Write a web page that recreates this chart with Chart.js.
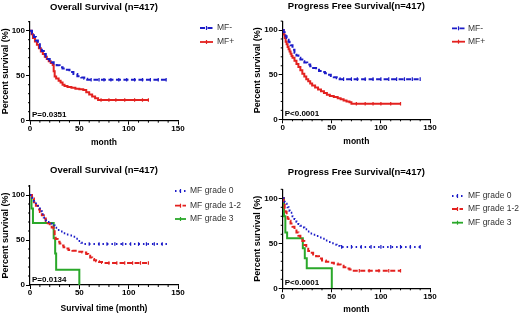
<!DOCTYPE html>
<html>
<head>
<meta charset="utf-8">
<script src="https://cdn.jsdelivr.net/npm/chart.js@4.4.1/dist/chart.umd.min.js"></script>
<style>
  html, body { margin: 0; padding: 0; background: #fff; }
  #wrap { position: relative; width: 520px; height: 315px; overflow: hidden; }
  canvas { position: absolute; }
</style>
</head>
<body>
<div id="wrap">
  <canvas id="c1" width="252" height="157" style="left:0;top:0"></canvas>
  <canvas id="c2" width="268" height="157" style="left:252px;top:0"></canvas>
  <canvas id="c3" width="252" height="158" style="left:0;top:157px"></canvas>
  <canvas id="c4" width="268" height="158" style="left:252px;top:157px"></canvas>
</div>
<script>
// ---- data (months, percent survival) ----
const xTicks = [0, 50, 100, 150]
const yTicks = [0, 50, 100]

// overall survival, MF- / MF+
const osNegT = [0, 2, 4, 6, 8, 10, 12, 14, 16, 18, 20, 22, 24, 27, 30, 33, 36, 40, 44, 48, 52, 55, 58, 140]
const osNegS = [100, 97, 93, 89, 85, 81, 77.5, 74, 71, 68.5, 66.5, 65, 63.5, 61.5, 59.5, 58, 56.5, 54, 52, 49.5, 48, 46.5, 45.5, 45.5]
const osPosT = [0, 1.5, 3, 5, 7, 9, 11, 13, 15, 17, 19, 21, 23, 24, 25, 26.5, 29, 31, 33, 35, 38, 42, 46, 50, 54, 57, 60, 63, 66, 69, 120]
const osPosS = [100, 96, 92, 88, 84.5, 80.5, 77, 74, 71, 68.5, 66, 64, 62, 55, 49, 47, 44.5, 42.5, 40, 38.5, 37.5, 36.5, 35.5, 35, 34, 31.5, 29, 27, 25, 23, 23]
const osNegCens = [62, 70, 75, 82, 90, 98, 106, 114, 122, 130, 138]
const osPosCens = [72, 80, 87, 96, 106, 114, 120]

// progress free survival, MF- / MF+
const pfsNegT = [0, 1, 2, 3, 4, 5, 6, 7, 8, 10, 12, 14, 16, 18, 20, 22, 25, 28, 31, 34, 37, 40, 43, 46, 49, 52, 55, 58, 140]
const pfsNegS = [100, 97.5, 95, 93, 91, 89, 87, 85, 83, 78, 74.5, 71.5, 69, 67, 65, 63.5, 61.5, 59.5, 57.5, 55.5, 54, 53, 51.5, 50, 48.5, 47, 46, 45, 45]
const pfsPosT = [0, 1, 2, 3, 4, 5, 6, 7, 8, 9, 10, 12, 14, 16, 18, 20, 22, 24, 26, 28, 30, 33, 36, 39, 42, 45, 48, 52, 56, 59, 62, 65, 68, 70, 120]
const pfsPosS = [100, 95, 91, 87, 84, 81, 78.5, 76, 73.5, 71, 69, 65.5, 62, 58.5, 55, 51, 48, 45, 42.5, 40, 38, 35.5, 33.5, 31.5, 29.5, 27.5, 26, 25, 23.5, 22.5, 21, 20, 19, 17.5, 17.5]
const pfsNegCens = [62, 70, 76, 84, 92, 100, 108, 116, 124, 132, 140]
const pfsPosCens = [75, 84, 92, 100, 110, 120]

// overall survival by MF grade
const osG0T = [0, 2, 4, 6, 8, 10, 12, 14, 16, 18, 20, 22, 25, 28, 31, 34, 37, 40, 43, 46, 49, 52, 55, 140]
const osG0S = [100, 97, 93, 89, 85, 82, 78.5, 75, 72, 70, 68, 66, 63.5, 61, 59.5, 57.5, 56, 55, 53.5, 51.5, 49, 47, 45.5, 45.5]
const osG12T = [0, 2, 4, 6, 8, 10, 12, 14, 16, 18, 20, 22, 24, 25, 26, 28, 30, 32, 34, 36, 39, 43, 48, 53, 57, 59, 61, 63, 65, 67, 70, 73, 120]
const osG12S = [100, 96, 92, 88, 84, 81, 77.5, 74, 71, 68.5, 66, 64, 62.5, 55, 51, 48, 46, 44, 42, 40.5, 39, 38, 37, 36, 34.5, 32.5, 30.5, 29, 27.5, 26.5, 25.5, 24.5, 24.5]
const osG3T = [0, 1.5, 3, 24, 25.5, 26.5, 50]
const osG3S = [100, 85, 69, 52, 35, 17, 0]
const osG0Cens = [60, 70, 78, 86, 94, 102, 110, 118, 126, 134]
const osG12Cens = [80, 88, 96, 104, 112, 120]

// progress free survival by MF grade
const pfsG0T = [0, 1, 2, 3, 4, 5, 6, 7, 8, 10, 12, 14, 16, 18, 20, 22, 25, 28, 31, 34, 37, 40, 43, 46, 49, 52, 55, 58, 140]
const pfsG0S = [100, 98, 96, 94, 92, 90, 88, 86, 84, 80, 77, 74, 71.5, 69.5, 67.5, 65.5, 63, 61, 59.5, 58, 56.5, 55, 53, 51.5, 50, 48.5, 47, 46, 46]
const pfsG12T = [0, 1, 2, 3, 4, 5, 6, 8, 10, 12, 14, 16, 18, 20, 22, 24, 26, 28, 31, 34, 37, 40, 44, 48, 52, 56, 59, 62, 65, 68, 71, 120]
const pfsG12S = [100, 94, 89, 85, 81, 77.5, 75, 72, 68.5, 65.5, 62, 58.5, 55.5, 52.5, 48, 44, 41.5, 39.5, 37.5, 35.5, 33, 31, 29.5, 28.5, 27.5, 26.5, 25, 23.5, 22, 21, 19.5, 19.5]
const pfsG3T = [0, 1.3, 2.7, 4.5, 20.5, 22.5, 24.5, 50]
const pfsG3S = [100, 80, 62, 55.5, 44.4, 33.3, 22.2, 0]
const pfsG0Cens = [60, 70, 80, 90, 100, 110, 120, 130, 140]
const pfsG12Cens = [78, 88, 98, 108, 120]

// ---- drawing ----
const FONT = "'Liberation Sans', Arial, sans-serif"
const BLUE = '#1c1cc8'
const RED = '#e3211f'
const GREEN = '#2aa82a'

function stepAt(t, s, x) {
  let v = s[0]
  for (let i = 0; i < t.length; i++) if (t[i] <= x) v = s[i]
  return v
}
const curve = (t, s) => t.map((x, i) => ({ x, y: s[i] }))
const censor = (t, s, times) => times.map((x) => ({ x, y: stepAt(t, s, x) }))

function km(label, color, dash, t, s) {
  return {
    label, data: curve(t, s), borderColor: color, borderDash: dash,
    borderWidth: 2, stepped: true, pointRadius: 0, fill: false,
  }
}
function marks(color, t, s, times) {
  return {
    censor: true, data: censor(t, s, times), showLine: false, borderColor: color,
    pointStyle: 'line', pointRotation: 90, pointRadius: 1.8, pointBorderWidth: 1.2,
  }
}

function line(ctx, x1, y1, x2, y2) {
  ctx.beginPath(); ctx.moveTo(x1, y1); ctx.lineTo(x2, y2); ctx.stroke()
}

const overlay = {
  id: 'overlay',
  afterDraw(chart, args, opts) {
    const { ctx, chartArea: a, scales } = chart
    ctx.save()
    ctx.strokeStyle = '#000'
    ctx.lineWidth = 1
    for (let v = 10; v <= 110; v += 10) {
      if (v % 50 === 0) continue
      const y = scales.y.getPixelForValue(v)
      line(ctx, a.left - 2, y, a.left, y)
    }
    for (let v = 10; v < 150; v += 10) {
      if (v % 50 === 0) continue
      const x = scales.x.getPixelForValue(v)
      line(ctx, x, a.bottom, x, a.bottom + 2)
    }
    ctx.font = 'bold 8px ' + FONT
    ctx.fillStyle = '#000'
    ctx.textBaseline = 'middle'
    ctx.textAlign = 'left'
    ctx.fillText(opts.pval, a.left + 2, a.bottom - 5.5)

    const items = chart.data.datasets.filter((d) => !d.censor)
    ctx.font = '8.5px ' + FONT
    items.forEach((d, i) => {
      const y = opts.rows[i]
      ctx.strokeStyle = d.borderColor
      ctx.lineWidth = 1.8
      ctx.setLineDash(d.borderDash || [])
      line(ctx, opts.lx, y, opts.lx + opts.len, y)
      ctx.setLineDash([])
      ctx.lineWidth = 1.2
      const mx = opts.lx + opts.len / 2
      line(ctx, mx, y - 2, mx, y + 2)
      ctx.fillStyle = '#333'
      ctx.fillText(d.label, opts.tx, y)
    })
    ctx.restore()
  },
}

function panel(id, cfg) {
  const tickFont = { family: FONT, size: 8, weight: 'bold', lineHeight: 1 }
  new Chart(document.getElementById(id), {
    type: 'line',
    data: { datasets: cfg.datasets },
    plugins: [overlay],
    options: {
      responsive: false,
      animation: false,
      devicePixelRatio: 1,
      layout: { padding: { left: 0, top: 0, right: cfg.padRight, bottom: cfg.padBottom } },
      plugins: {
        legend: { display: false },
        tooltip: { enabled: false },
        title: {
          display: true, text: cfg.title, fullSize: false, color: '#000',
          font: { family: FONT, size: 9.5, weight: 'bold', lineHeight: 1.2 },
          padding: cfg.titlePad,
        },
        overlay: cfg.overlay,
      },
      scales: {
        x: {
          type: 'linear', min: 0, max: 150,
          afterBuildTicks: (s) => { s.ticks = xTicks.map((value) => ({ value })) },
          afterFit: (s) => { s.height = cfg.xh },
          ticks: { color: '#000', font: tickFont, padding: 0, maxRotation: 0 },
          grid: { drawOnChartArea: false, tickLength: 4, color: '#000', tickWidth: 1 },
          border: { color: '#000', width: 1.2 },
          title: {
            display: true, text: cfg.xTitle, color: '#000', padding: 0,
            font: { family: FONT, size: 8.5, weight: 'bold', lineHeight: 1.2 },
          },
        },
        y: {
          min: 0, max: 110,
          afterBuildTicks: (s) => { s.ticks = yTicks.map((value) => ({ value })) },
          afterFit: (s) => { s.width = cfg.yw },
          ticks: { color: '#000', font: tickFont, padding: 1 },
          grid: { drawOnChartArea: false, tickLength: 4, color: '#000', tickWidth: 1 },
          border: { color: '#000', width: 1.2 },
          title: {
            display: true, text: 'Percent survival (%)', color: '#000', padding: 0,
            font: { family: FONT, size: 9, weight: 'bold', lineHeight: 1.2 },
          },
        },
      },
    },
  })
}

panel('c1', {
  title: 'Overall Survival (n=417)', xTitle: 'month',
  titlePad: { top: 1.3, bottom: 9 }, yw: 30, xh: 27.4, padRight: 74, padBottom: 8.9,
  overlay: { pval: 'P=0.0351', lx: 200, len: 13, tx: 217, rows: [28, 42] },
  datasets: [
    km('MF-', BLUE, [5, 2.5], osNegT, osNegS),
    km('MF+', RED, [], osPosT, osPosS),
    marks(BLUE, osNegT, osNegS, osNegCens),
    marks(RED, osPosT, osPosS, osPosCens),
  ],
})

panel('c2', {
  title: 'Progress Free Survival(n=417)', xTitle: 'month',
  titlePad: { top: 0.3, bottom: 9.4 }, yw: 30.7, xh: 27.5, padRight: 90, padBottom: 10.2,
  overlay: { pval: 'P<0.0001', lx: 200, len: 13, tx: 216, rows: [28.3, 41.7] },
  datasets: [
    km('MF-', BLUE, [5, 2.5], pfsNegT, pfsNegS),
    km('MF+', RED, [], pfsPosT, pfsPosS),
    marks(BLUE, pfsNegT, pfsNegS, pfsNegCens),
    marks(RED, pfsPosT, pfsPosS, pfsPosCens),
  ],
})

panel('c3', {
  title: 'Overall Survival (n=417)', xTitle: 'Survival time (month)',
  titlePad: { top: 7.3, bottom: 10.3 }, yw: 30, xh: 28.4, padRight: 74, padBottom: 1.6,
  overlay: { pval: 'P=0.0134', lx: 175, len: 11, tx: 190, rows: [34, 48.7, 62] },
  datasets: [
    km('MF grade 0', BLUE, [1.5, 3], osG0T, osG0S),
    km('MF grade 1-2', RED, [5, 2.5], osG12T, osG12S),
    km('MF grade 3', GREEN, [], osG3T, osG3S),
    marks(BLUE, osG0T, osG0S, osG0Cens),
    marks(RED, osG12T, osG12S, osG12Cens),
  ],
})

panel('c4', {
  title: 'Progress Free Survival(n=417)', xTitle: 'month',
  titlePad: { top: 9.3, bottom: 11.6 }, yw: 30.7, xh: 26.7, padRight: 90, padBottom: 0,
  overlay: { pval: 'P<0.0001', lx: 200, len: 11, tx: 216, rows: [39, 52, 65.7] },
  datasets: [
    km('MF grade 0', BLUE, [1.5, 3], pfsG0T, pfsG0S),
    km('MF grade 1-2', RED, [5, 2.5], pfsG12T, pfsG12S),
    km('MF grade 3', GREEN, [], pfsG3T, pfsG3S),
    marks(BLUE, pfsG0T, pfsG0S, pfsG0Cens),
    marks(RED, pfsG12T, pfsG12S, pfsG12Cens),
  ],
})
</script>
</body>
</html>
